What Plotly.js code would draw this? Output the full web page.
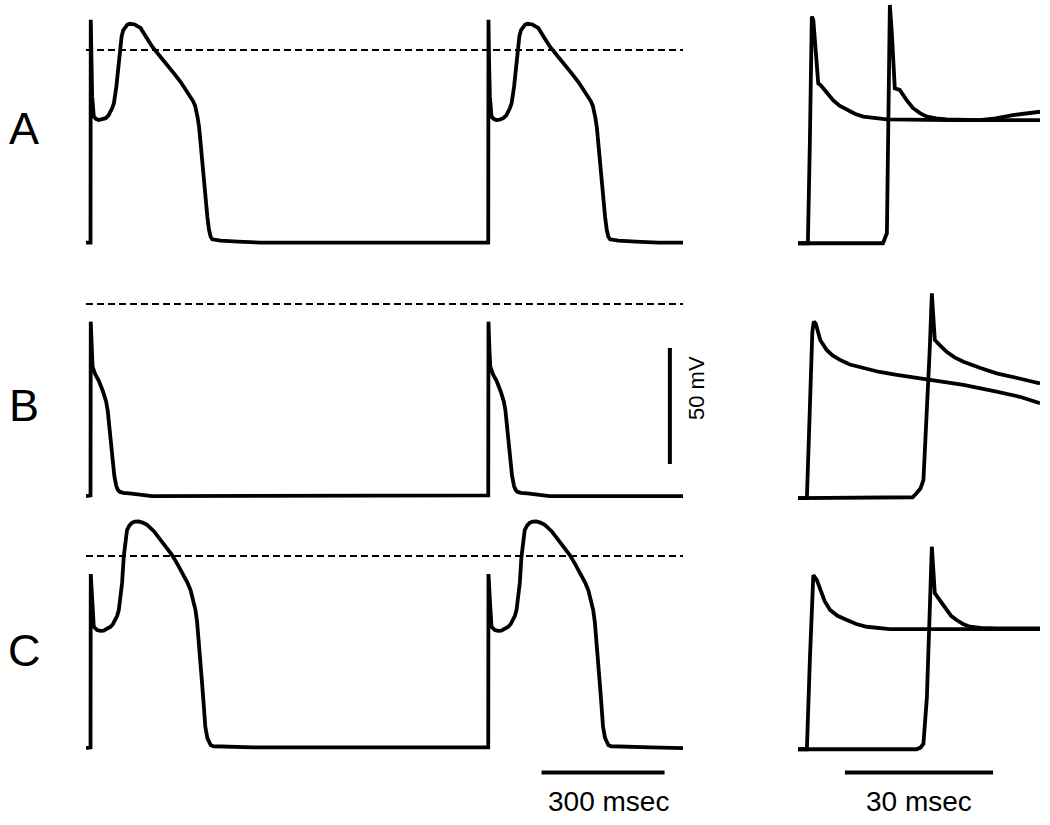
<!DOCTYPE html>
<html>
<head>
<meta charset="utf-8">
<script src="https://cdn.plot.ly/plotly-3.0.1.min.js"></script>
<style>html,body{margin:0;padding:0;background:#fff;}</style>
</head>
<body>
<div id="chart" style="width:1050px;height:825px;"></div>
<script>
// ---------- DATA ----------
// Left panels: one beat template each (time ms from upstroke, membrane potential mV)
const beatOnsetsMs = [0, 970];
const leftStartMs = -11;
const leftEndMs = 1445;

const apA_t = [0, 0.6, 2, 4, 8, 14, 20, 28, 37, 44, 49, 53, 57, 60, 63, 66, 69, 73, 76, 80, 85, 90, 96, 102, 108, 114, 122, 136, 151, 170, 188, 204, 220, 232, 244, 250, 255, 258, 261, 265, 268, 272, 276, 281, 285, 289, 293, 297, 305, 317, 360, 415];
const apA_v = [-83, 13, -5, -20, -28.7, -29.8, -30.2, -30, -29.4, -28.2, -26.6, -25, -23, -19.8, -15.8, -10.8, -5.7, 2.9, 6, 8.6, 10, 10.9, 11.3, 11.3, 11, 10.3, 9.5, 5.5, 1.3, -2.8, -6.5, -10.2, -13.8, -16.8, -20.3, -22, -24, -26, -28.9, -33.5, -40, -47, -54.7, -64, -72, -77.5, -80.5, -81.6, -82, -82.2, -82.6, -83];
const restA = -83;

const apB_t = [0, 0.6, 3, 5, 12, 20, 30, 38, 42, 45, 48, 52, 55, 58, 63, 67, 72, 80, 95, 150];
const apB_v = [-82.5, -7.6, -20, -27, -30.5, -33, -37.5, -42, -46, -51, -57, -64, -69.5, -74, -78.5, -80.2, -81, -81.4, -81.6, -82.8];
const restB = -82.8;

const apC_t = [0, 0.6, 4, 8, 16, 24, 32, 40, 49, 55, 61, 65, 69, 73, 77, 81, 85, 89, 95, 101, 108, 117, 127, 138, 155, 171, 185, 199, 213, 227, 236, 244, 250, 256, 260, 264, 268, 272, 276, 280, 285, 289, 293, 300, 325, 397];
const apC_v = [-82.5, -7.8, -19, -30.5, -31.9, -32.3, -32.2, -31.6, -30.5, -29.3, -27.6, -25.8, -23.3, -18.5, -11.6, -0.4, 6.5, 11.2, 13.2, 14.3, 14.8, 14.9, 14.4, 13.4, 10.6, 6.9, 3.8, 0.4, -3.8, -8.2, -11.3, -14.7, -18.5, -23.3, -28.5, -36.2, -45, -54.7, -64, -73.6, -78.5, -80.6, -81.5, -82, -82.2, -82.5];
const restC = -82.8;

// Right panels: expanded upstrokes (time ms, mV), two traces each
const upA1_t = [0, 2.0, 2.4, 2.8, 3.1, 3.5, 3.8, 4.1, 4.6, 5.1, 6.0, 7.1, 8.4, 9.9, 11.5, 13.2, 15.5, 18.0, 30.8, 49.0];
const upA1_v = [-83.3, -83.3, -40, 14.4, 12.9, 0, -7.2, -14.4, -15.2, -16.5, -19.2, -21.6, -24, -25.9, -27.5, -28.7, -29.4, -29.9, -30.2, -30.2];
const upA2_t = [0, 17.2, 18.0, 18.3, 18.6, 19.0, 19.3, 19.6, 20.6, 21.3, 22.0, 23.3, 24.7, 26.1, 28.0, 30.1, 36.8, 40, 43.5, 49.0];
const upA2_v = [-83.3, -83.3, -79, -30, 19.4, 7.3, -7.2, -16.5, -17.2, -19.5, -21.6, -25.1, -27.2, -28.7, -29.5, -29.9, -30.2, -29.5, -28.1, -26.6];

const upB1_t = [0, 1.8, 2.4, 2.9, 3.2, 3.6, 4.5, 5.8, 7.0, 8.5, 10.5, 13.2, 16.5, 20.0, 26.7, 33.5, 40.2, 44.9, 49.0];
const upB1_v = [-83.7, -83.7, -45, -12, -7.6, -8.5, -15.5, -19.8, -22.2, -24.1, -26.1, -27.7, -29.3, -30.6, -32.8, -34.9, -37.8, -40, -42.8];
const upB2_t = [0, 22.0, 23.2, 24.0, 24.8, 25.4, 26.1, 26.7, 27.1, 27.4, 27.7, 28.7, 30.1, 31.7, 33.5, 36.8, 40.2, 44.6, 49.0];
const upB2_v = [-83.7, -83.7, -83.3, -81.6, -79.5, -75.9, -47.1, -18.4, 4.6, -3.9, -15.5, -17.7, -20.6, -23, -24.9, -27.5, -29.9, -32, -34.2];

const upC1_t = [0, 1.8, 2.4, 2.9, 3.1, 3.8, 4.5, 5.4, 6.5, 8.0, 9.9, 11.8, 13.9, 16.0, 18.6, 49.0];
const upC1_v = [-83.3, -83.3, -45, -12, -8.2, -10.3, -14.7, -19.5, -23.3, -25.8, -27.6, -29.3, -30.5, -31.1, -31.5, -31.5];
const upC2_t = [0, 24.0, 24.8, 25.4, 26.1, 26.7, 27.1, 27.4, 27.7, 28.7, 30.1, 31.0, 32.1, 33.4, 34.8, 37.0, 40.2, 49.0];
const upC2_v = [-83.3, -83.3, -82.6, -80.9, -60.8, -24.6, 4, -6, -16, -19, -23.3, -25.8, -27.6, -29.3, -30.5, -31, -31.2, -31.2];

// Scale bars and labels
const panelLabels = ['A', 'B', 'C'];
const scaleTimeLeftMs = 300;
const scaleTimeRightMs = 30;
const scaleVoltMv = 50;
const scaleTimeLeftText = '300 msec';
const scaleTimeRightText = '30 msec';
const scaleVoltText = '50 mV';

// ---------- LAYOUT GEOMETRY ----------
const W = 1050, H = 825;
const pxPerMv = 2.32;
const rowZeroPx = [50, 304, 556];
const rowTopMv = 21;
const rowBottomMv = [-87, -87, -97];
const leftPx = [86, 683];
const rightPx = [798, 1040];
const rightRangeMs = [0, 49];

function yDomain(i) {
  const top = rowZeroPx[i] - rowTopMv * pxPerMv;
  const bot = rowZeroPx[i] - rowBottomMv[i] * pxPerMv;
  return [1 - bot / H, 1 - top / H];
}

function buildLeft(t, v, rest) {
  const xs = [leftStartMs], ys = [rest];
  beatOnsetsMs.forEach(on => {
    t.forEach((tt, k) => { xs.push(tt + on); ys.push(v[k]); });
  });
  xs.push(leftEndMs); ys.push(rest);
  return {x: xs, y: ys};
}

const lineStyle = {color: '#000', width: 3.8};
const traces = [];
const yNames = ['y', 'y2', 'y3'];
const leftData = [[apA_t, apA_v, restA], [apB_t, apB_v, restB], [apC_t, apC_v, restC]];
leftData.forEach((d, i) => {
  const s = buildLeft(d[0], d[1], d[2]);
  traces.push({x: s.x, y: s.y, xaxis: 'x', yaxis: yNames[i], mode: 'lines', line: lineStyle, hoverinfo: 'skip'});
});
const rightData = [[upA1_t, upA1_v, upA2_t, upA2_v], [upB1_t, upB1_v, upB2_t, upB2_v], [upC1_t, upC1_v, upC2_t, upC2_v]];
rightData.forEach((d, i) => {
  traces.push({x: d[0], y: d[1], xaxis: 'x2', yaxis: yNames[i], mode: 'lines', line: lineStyle, hoverinfo: 'skip'});
  traces.push({x: d[2], y: d[3], xaxis: 'x2', yaxis: yNames[i], mode: 'lines', line: lineStyle, hoverinfo: 'skip'});
});

// scale bars (in axis units)
const barStyle = {color: '#000', width: 4};
const barMv = -93.3;
const leftBarStart = 1100;
traces.push({x: [leftBarStart, leftBarStart + scaleTimeLeftMs], y: [barMv, barMv], xaxis: 'x', yaxis: 'y3', mode: 'lines', line: barStyle, hoverinfo: 'skip'});
const rightBarStart = 9.5;
traces.push({x: [rightBarStart, rightBarStart + scaleTimeRightMs], y: [barMv, barMv], xaxis: 'x2', yaxis: 'y3', mode: 'lines', line: barStyle, hoverinfo: 'skip'});
const voltBarMs = 1413, voltBarTop = -19;
traces.push({x: [voltBarMs, voltBarMs], y: [voltBarTop, voltBarTop - scaleVoltMv], xaxis: 'x', yaxis: 'y2', mode: 'lines', line: barStyle, hoverinfo: 'skip'});

const shapes = yNames.map(yn => ({
  type: 'line', xref: 'x', yref: yn, x0: leftStartMs, x1: leftEndMs, y0: 0, y1: 0,
  line: {color: '#000', width: 2, dash: '7px,4px'}
}));

const font = 'Liberation Sans, Arial, sans-serif';
const labelY = [128, 405, 650];
const annotations = panelLabels.map((lab, i) => ({
  text: lab, xref: 'paper', yref: 'paper', x: 24 / W, y: 1 - labelY[i] / H,
  xanchor: 'center', yanchor: 'middle', showarrow: false,
  font: {family: font, size: 45, color: '#000'}
}));
annotations.push({text: scaleTimeLeftText, xref: 'paper', yref: 'paper', x: 608 / W, y: 1 - 801 / H,
  xanchor: 'center', yanchor: 'middle', showarrow: false, font: {family: font, size: 28, color: '#000'}});
annotations.push({text: scaleTimeRightText, xref: 'paper', yref: 'paper', x: 919 / W, y: 1 - 801 / H,
  xanchor: 'center', yanchor: 'middle', showarrow: false, font: {family: font, size: 28, color: '#000'}});
annotations.push({text: scaleVoltText, xref: 'paper', yref: 'paper', x: 697 / W, y: 1 - 388 / H,
  xanchor: 'center', yanchor: 'middle', textangle: -90, showarrow: false, font: {family: font, size: 22, color: '#000'}});

const hidden = {visible: false, fixedrange: true};
const layout = {
  width: W, height: H,
  margin: {l: 0, r: 0, t: 0, b: 0},
  paper_bgcolor: '#fff', plot_bgcolor: 'rgba(0,0,0,0)',
  showlegend: false,
  xaxis: Object.assign({domain: [leftPx[0] / W, leftPx[1] / W], range: [leftStartMs, leftEndMs], anchor: 'y3'}, hidden),
  xaxis2: Object.assign({domain: [rightPx[0] / W, rightPx[1] / W], range: rightRangeMs, anchor: 'y3'}, hidden),
  yaxis: Object.assign({domain: yDomain(0), range: [rowBottomMv[0], rowTopMv], anchor: 'x'}, hidden),
  yaxis2: Object.assign({domain: yDomain(1), range: [rowBottomMv[1], rowTopMv], anchor: 'x'}, hidden),
  yaxis3: Object.assign({domain: yDomain(2), range: [rowBottomMv[2], rowTopMv], anchor: 'x'}, hidden),
  shapes: shapes,
  annotations: annotations
};

Plotly.newPlot('chart', traces, layout, {displayModeBar: false, staticPlot: true});
</script>
</body>
</html>
